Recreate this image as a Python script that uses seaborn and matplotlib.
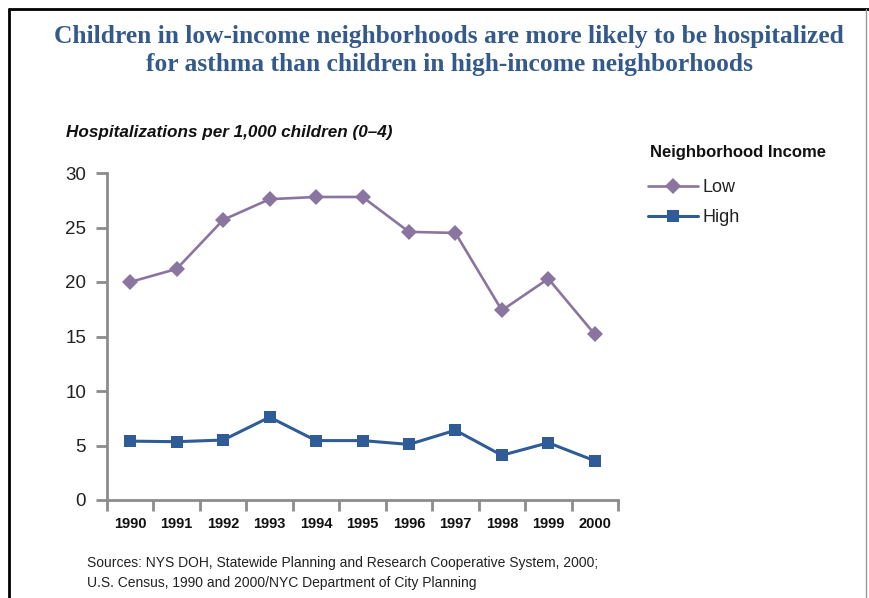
import matplotlib
matplotlib.use("Agg")
import matplotlib.pyplot as plt
from matplotlib.lines import Line2D
from matplotlib.ticker import FixedLocator, NullFormatter
import seaborn as sns
import pandas as pd
import numpy as np

# Asthma hospitalizations per 1,000 children aged 0-4, NYC
years = ["1990", "1991", "1992", "1993", "1994", "1995",
         "1996", "1997", "1998", "1999", "2000"]
low_income = [20.0, 21.2, 25.7, 27.6, 27.8, 27.8, 24.6, 24.5, 17.4, 20.3, 15.2]
high_income = [5.4, 5.35, 5.5, 7.6, 5.45, 5.45, 5.1, 6.4, 4.1, 5.25, 3.6]
series_names = ["Low", "High"]
y_ticks = [0, 5, 10, 15, 20, 25, 30]

title_lines = [
    "Children in low-income neighborhoods are more likely to be hospitalized",
    "for asthma than children in high-income neighborhoods",
]
ylabel_text = "Hospitalizations per 1,000 children (0\u20134)"
legend_title = "Neighborhood Income"
source_text = ("Sources: NYS DOH, Statewide Planning and Research Cooperative System, 2000;\n"
               "U.S. Census, 1990 and 2000/NYC Department of City Planning")

df = pd.DataFrame({
    "pos": list(range(len(years))) * 2,
    "value": low_income + high_income,
    "income": [series_names[0]] * len(years) + [series_names[1]] * len(years),
})

LOW_COLOR = "#8a75a0"
HIGH_COLOR = "#2f5c96"
AXIS_GRAY = "#8c8c8c"
TITLE_BLUE = "#345a8c"

sns.set_theme(style="white")
plt.rcParams["font.family"] = ["Liberation Sans", "DejaVu Sans"]

W, H = 869, 598
fig = plt.figure(figsize=(W / 100, H / 100), dpi=100)
fig.patch.set_facecolor("white")

ax_left, ax_right, ax_top, ax_bot = 107, 618, 173, 500
ax = fig.add_axes([ax_left / W, 1 - ax_bot / H,
                   (ax_right - ax_left) / W, (ax_bot - ax_top) / H])

palette = {"Low": LOW_COLOR, "High": HIGH_COLOR}
markers = {"Low": "D", "High": "s"}
sns.lineplot(data=df, x="pos", y="value", hue="income", style="income",
             palette=palette, markers=markers, dashes=False,
             markersize=8, linewidth=2.0, markeredgewidth=0,
             legend=False, ax=ax)
for ln in ax.get_lines():
    if ln.get_marker() == "D":
        ln.set_markersize(8)
        ln.set_linewidth(1.9)
    elif ln.get_marker() == "s":
        ln.set_markersize(8)
        ln.set_linewidth(2.2)

ax.set_xlim(-0.5, len(years) - 0.5)
ax.set_ylim(0, 30)
ax.set_xlabel("")
ax.set_ylabel("")

for side in ("top", "right"):
    ax.spines[side].set_visible(False)
for side in ("left", "bottom"):
    ax.spines[side].set_color(AXIS_GRAY)
    ax.spines[side].set_linewidth(2.0)

ax.set_yticks(y_ticks)
ax.set_yticklabels([str(t) for t in y_ticks], fontsize=13.5, color="#222222")
ax.tick_params(axis="y", which="major", direction="out", length=8, width=2.0,
               color=AXIS_GRAY, pad=7, left=True)

ax.set_xticks(range(len(years)))
ax.set_xticklabels(years, fontsize=10.5, fontweight="bold", color="#111111")
ax.tick_params(axis="x", which="major", length=0, pad=12, bottom=True)
ax.xaxis.set_minor_locator(FixedLocator(np.arange(-0.5, len(years), 1.0)))
ax.xaxis.set_minor_formatter(NullFormatter())
ax.tick_params(axis="x", which="minor", direction="out", length=8, width=2.0,
               color=AXIS_GRAY, bottom=True)
ax.grid(False)

# Title, two centred lines
for text, ypix in zip(title_lines, [37, 65]):
    fig.text(449 / W, 1 - ypix / H, text, ha="center", va="center",
             fontsize=18.4, fontweight="bold", color=TITLE_BLUE,
             family=["Liberation Serif", "DejaVu Serif"])

# Axis caption
fig.text(66 / W, 1 - 133 / H, ylabel_text, ha="left", va="center",
         fontsize=12.3, fontweight="bold", fontstyle="italic", color="#111111")

# Legend
fig.text(650 / W, 1 - 153 / H, legend_title, ha="left", va="center",
         fontsize=12, fontweight="bold", color="#111111")
handles = [
    Line2D([], [], color=LOW_COLOR, marker="D", markersize=8, linewidth=1.9,
           markeredgewidth=0),
    Line2D([], [], color=HIGH_COLOR, marker="s", markersize=8, linewidth=2.2,
           markeredgewidth=0),
]
leg = fig.legend(handles, series_names,
                 loc="upper left", bbox_to_anchor=(648 / W, 1 - 179 / H),
                 frameon=False, fontsize=13, borderpad=0, borderaxespad=0,
                 handlelength=2.77, handletextpad=0.25, labelspacing=0.74)
for t in leg.get_texts():
    t.set_color("#222222")

# Sources
fig.text(87 / W, 1 - 573 / H, source_text, ha="left", va="center",
         fontsize=10, color="#222222", linespacing=1.55)

# Page frame
fig.add_artist(Line2D([9 / W, 9 / W], [0, 1 - 9 / H], transform=fig.transFigure,
                      color="black", linewidth=2.0))
fig.add_artist(Line2D([9 / W, 1], [1 - 9 / H, 1 - 9 / H], transform=fig.transFigure,
                      color="black", linewidth=2.0))
fig.add_artist(Line2D([866 / W, 866 / W], [0, 1 - 9 / H], transform=fig.transFigure,
                      color="#999999", linewidth=1.0))

fig.savefig("out.png", dpi=100, facecolor="white")
